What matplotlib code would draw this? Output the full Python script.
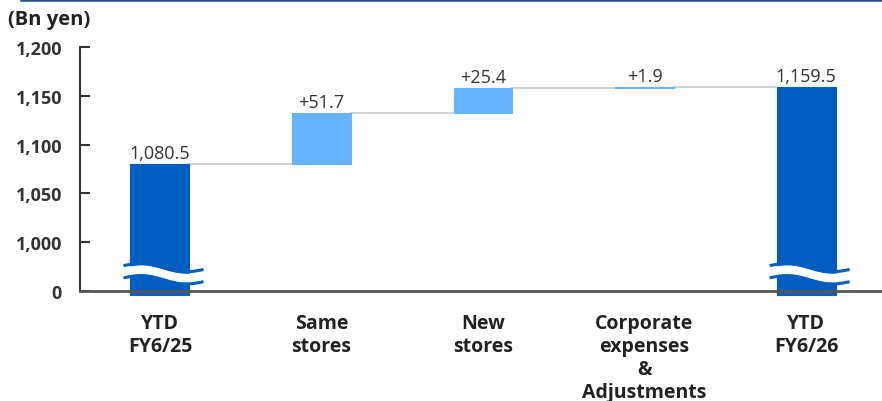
import numpy as np
import matplotlib.pyplot as plt
from matplotlib.ticker import FixedLocator

plt.rcParams['font.family'] = ['Open Sans', 'DejaVu Sans']

# Waterfall data (Bn yen)
categories = ["YTD\nFY6/25", "Same\nstores", "New\nstores",
              "Corporate\nexpenses\n&\nAdjustments", "YTD\nFY6/26"]
start_total = 1080.5
changes = [51.7, 25.4, 1.9]
end_total = 1159.5
value_labels = ["1,080.5", "+51.7", "+25.4", "+1.9", "1,159.5"]

ytick_vals = [950, 1000, 1050, 1100, 1150, 1200]
ytick_labels = ["0", "1,000", "1,050", "1,100", "1,150", "1,200"]

dark_blue = "#005EC2"
light_blue = "#66B4FF"
axis_floor = 950      # shown as "0" (broken axis)
bar_floor = 946       # bars run slightly below the axis line

fig = plt.figure(figsize=(8.82, 4.02), dpi=100)
ax = fig.add_axes([80 / 882, 1 - 292 / 402, 1 - 80 / 882, (292 - 48) / 402])

# header rule
fig.add_artist(plt.Line2D([21 / 882, 1.0], [0.9985, 0.9985], color="#1F4E8C", lw=1.8))

x = np.arange(len(categories))
w = 0.365

# bottoms / heights
bottoms = [bar_floor]
heights = [start_total - bar_floor]
level = start_total
for c in changes:
    bottoms.append(level)
    heights.append(c)
    level += c
bottoms.append(bar_floor)
heights.append(end_total - bar_floor)
colors = [dark_blue, light_blue, light_blue, light_blue, dark_blue]

ax.bar(x, heights, bottom=bottoms, width=w, color=colors, edgecolor=colors,
       linewidth=0.8, zorder=3, clip_on=False)

# connectors
tops = [b + h for b, h in zip(bottoms, heights)]
levels = [start_total]
for c in changes:
    levels.append(levels[-1] + c)
for i, lv in enumerate(levels):
    ax.plot([x[i] + w / 2, x[i + 1] - w / 2], [lv, lv], color="#D3D3D3", lw=1.5, zorder=2)

# value labels
for i, t in enumerate(tops):
    ax.text(x[i], t + 2, value_labels[i], ha="center", va="bottom",
            fontsize=13, color="#333333", zorder=4)

# break marks on the full bars
def draw_break(xc):
    xs = np.linspace(xc - w / 2 - 0.043, xc + w / 2 + 0.087, 80)
    t = (xs - xs[0]) / (xs[-1] - xs[0])
    wave = 3.2 * np.sin(2 * np.pi * t) - 4.0 * t
    top = 974.5 + wave
    bot = 965.0 + wave
    ax.fill_between(xs, bot, top, color="white", zorder=5, clip_on=False, lw=0)
    ax.plot(xs, top + 1.5, color=dark_blue, lw=2.2, zorder=6, clip_on=False, solid_capstyle="butt")
    ax.plot(xs, bot - 1.5, color=dark_blue, lw=2.2, zorder=6, clip_on=False, solid_capstyle="butt")

draw_break(x[0])
draw_break(x[-1])

ax.set_xlim(-0.495, 4.47)
ax.set_ylim(axis_floor, 1200)
ax.yaxis.set_major_locator(FixedLocator(ytick_vals))
ax.set_yticklabels(ytick_labels, fontsize=13, fontweight="bold", color="#333333")
ax.tick_params(axis="y", direction="in", length=7, width=1.5, color="#333333", pad=13)

ax.set_xticks(x)
ax.set_xticklabels(categories, fontsize=14, fontweight="bold", color="#222222",
                   linespacing=1.2, va="top")
ax.tick_params(axis="x", length=0, pad=16)

for s in ["top", "right"]:
    ax.spines[s].set_visible(False)
ax.spines["left"].set_color("#333333")
ax.spines["left"].set_linewidth(1.5)
ax.spines["bottom"].set_color("#555555")
ax.spines["bottom"].set_linewidth(2)
ax.spines["bottom"].set_zorder(7)

fig.text(8 / 882, 1 - 20 / 402, "(Bn yen)", fontsize=14.5, fontweight="bold",
         color="#222222", va="center", ha="left")

fig.savefig("out.png", dpi=100)
